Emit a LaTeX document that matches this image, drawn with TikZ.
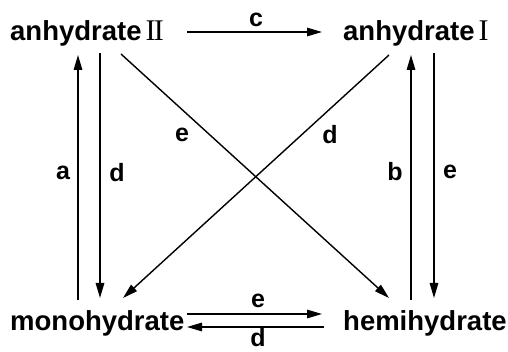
\documentclass[tikz,border=0pt]{standalone}
\usepackage{fontspec}
\setmainfont{Liberation Sans}
\newfontfamily\romfont{Liberation Serif}
\usetikzlibrary{arrows.meta}
\tikzset{
  species/.style={anchor=base west, inner sep=0pt, font=\fontsize{27.5}{32}\selectfont\bfseries},
  lbl/.style={inner sep=0pt, font=\fontsize{25}{28}\selectfont\bfseries},
  conv/.style={line width=1.4pt, -{Triangle[length=15pt,width=8.5pt]}},
}
\newcommand{\romn}[1]{{\romfont\mdseries\fontsize{30}{32}\selectfont #1}}
\begin{document}
\begin{tikzpicture}[x=1pt,y=-1pt]
\useasboundingbox (0,0) rectangle (508,352);
% species
\node[species] (A2) at (10,41) {anhydrate\kern4pt\romn{I\kern-0.06em I}};
\node[species] (A1) at (343,41) {anhydrate\kern4pt\romn{I}};
\node[species] (M) at (10,330) {monohydrate};
\node[species] (H) at (343,330) {hemihydrate};
% endpoints
\coordinate (c1) at (187,32);  \coordinate (c2) at (322,32);
\coordinate (a1) at (78,300);  \coordinate (a2) at (78,55);
\coordinate (dL1) at (100,53); \coordinate (dL2) at (100,298);
\coordinate (eX1) at (121,54); \coordinate (eX2) at (389,298);
\coordinate (dX1) at (389,55); \coordinate (dX2) at (123,298);
\coordinate (b1) at (411,300); \coordinate (b2) at (411,55);
\coordinate (eR1) at (434,53); \coordinate (eR2) at (434,298);
\coordinate (eB1) at (187,314); \coordinate (eB2) at (322,314);
\coordinate (dB1) at (324,327); \coordinate (dB2) at (187,327);
% connectors
\draw[conv] (c1) -- (c2);
\draw[conv] (a1) -- (a2);
\draw[conv] (dL1) -- (dL2);
\draw[conv] (eX1) -- (eX2);
\draw[conv] (dX1) -- (dX2);
\draw[conv] (b1) -- (b2);
\draw[conv] (eR1) -- (eR2);
\draw[conv] (eB1) -- (eB2);
\draw[conv] (dB1) -- (dB2);
% labels
\node[lbl] (lc) at (256,20) {c};
\node[lbl] (la) at (63,173) {a};
\node[lbl] (ldL) at (117,173) {d};
\node[lbl] (leX) at (182,135) {e};
\node[lbl] (ldX) at (330,135) {d};
\node[lbl] (lb) at (395,172) {b};
\node[lbl] (leR) at (450,172) {e};
\node[lbl] (leB) at (258,301) {e};
\node[lbl] (ldB) at (258,338) {d};
\end{tikzpicture}
\end{document}
